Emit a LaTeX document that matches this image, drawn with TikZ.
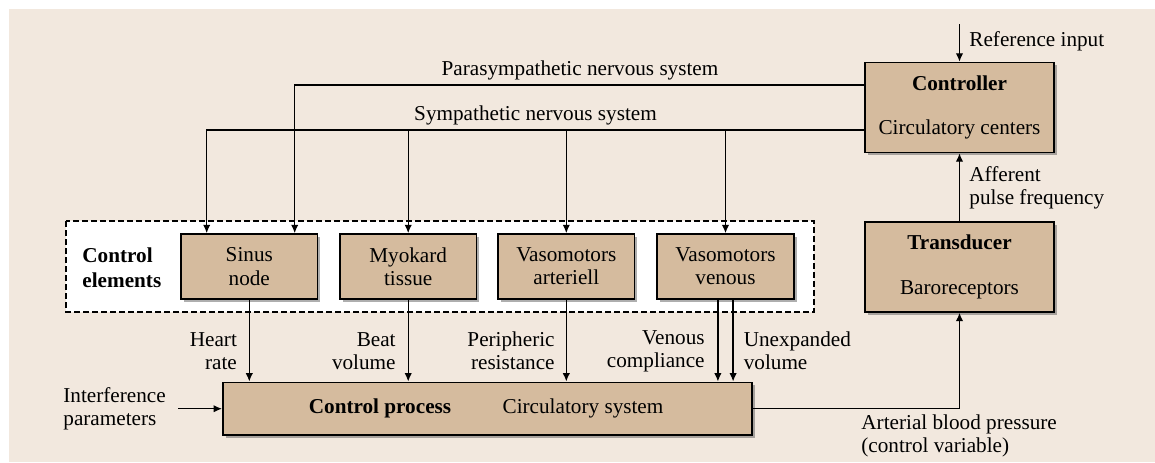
\documentclass[tikz,border=0pt]{standalone}
\usepackage{fontspec}
\setmainfont{Liberation Serif}
\usetikzlibrary{calc,arrows.meta,shadows}
\definecolor{bgc}{RGB}{242,232,222}
\definecolor{boxc}{RGB}{213,187,158}
\tikzset{
  every node/.style={font=\fontsize{10.6}{11.6}\selectfont, inner sep=0pt},
  blk/.style={draw=black, line width=0.8pt, fill=boxc, align=center,
    drop shadow={shadow xshift=1.4pt, shadow yshift=-1.4pt, opacity=0.45, fill=black!70}},
  elem/.style={blk, minimum width=68.3pt, minimum height=32.5pt},
  bigbox/.style={blk, minimum width=94.5pt, minimum height=45pt},
  arr/.style={line width=0.65pt, -{Latex[length=4.2pt,width=3.7pt]}},
}
\begin{document}
\begin{tikzpicture}[x=0.5pt,y=-0.5pt]
\useasboundingbox (0,0) rectangle (1155,462);
\fill[bgc] (9,9) rectangle (1155,462);
% dashed group
\draw[line width=0.6pt, fill=white, dash pattern=on 2.8pt off 1.7pt] (66,221) rectangle (814,312);
\node[align=left, anchor=west, font=\fontsize{10.6}{12.5}\selectfont\bfseries] (cel) at (82,267.5) {Control\\elements};
% boxes
\node[bigbox] (ctrl) at (959.5,107.5) {\textbf{Controller}\\[10.6pt]Circulatory centers};
\node[bigbox] (trans) at (959.5,267) {\textbf{Transducer}\\[10.6pt]Baroreceptors};
\node[elem] (sinus) at (249.3,266.5) {Sinus\\node};
\node[elem] (myo) at (408.2,266.5) {Myokard\\tissue};
\node[elem] (art) at (566.3,266.5) {Vasomotors\\arteriell};
\node[elem] (ven) at (725.5,266.5) {Vasomotors\\venous};
\node[blk, minimum width=264.7pt, minimum height=26.4pt] (proc) at (487.5,408.7) {};
\node[font=\fontsize{10.6}{11.6}\selectfont\bfseries] (proct) at (380,408.7) {Control process};
\node (procs) at (583,408.7) {Circulatory system};
% reference input
\coordinate (refin) at (959.5,24);
\draw[arr] (refin) -- (ctrl.north);
\node[anchor=west] (reft) at (969,41) {Reference input};
% parasympathetic
\coordinate (para) at ($(ctrl.west)+(0,-22.5)$);
\draw[arr] (para) -| ($(sinus.north)+(45.4,0)$);
\node (parat) at (580,70) {Parasympathetic nervous system};
% sympathetic
\coordinate (sym) at ($(ctrl.west)+(0,22.5)$);
\draw[arr] (sym) -| ($(sinus.north)+(-42.6,0)$);
\draw[arr] (sym -| myo.north) -- (myo.north);
\draw[arr] (sym -| art.north) -- (art.north);
\draw[arr] (sym -| ven.north) -- (ven.north);
\node (symt) at (535.5,115) {Sympathetic nervous system};
% outputs of control elements
\draw[arr] (sinus.south) -- (sinus.south |- proc.north);
\draw[arr] (myo.south) -- (myo.south |- proc.north);
\draw[arr] (art.south) -- (art.south |- proc.north);
\draw[arr] ($(ven.south)+(-7.6,0)$) -- ($(ven.south |- proc.north)+(-7.6,0)$);
\draw[arr] ($(ven.south)+(7.6,0)$) -- ($(ven.south |- proc.north)+(7.6,0)$);
\node[align=right, anchor=east] (hr) at (237.3,351) {Heart\\rate};
\node[align=right, anchor=east] (bv) at (396,351) {Beat\\volume};
\node[align=right, anchor=east] (pr) at (555,351) {Peripheric\\resistance};
\node[align=right, anchor=east] (vc) at (705,351) {Venous\\compliance};
\node[align=left, anchor=west] (uv) at (743.4,351) {Unexpanded\\volume};
% interference
\coordinate (intf) at (178,408.7);
\draw[arr] (intf) -- (proc.west);
\node[align=left, anchor=west] (intt) at (63,408.4) {Interference\\parameters};
% feedback
\draw[arr] (proc.east) -| (trans.south);
\node[align=left, anchor=west] (abp) at (861,436) {Arterial blood pressure\\(control variable)};
\draw[arr] (trans.north) -- (ctrl.south);
\node[align=left, anchor=west] (aff) at (969,188) {Afferent\\pulse frequency};
\end{tikzpicture}
\end{document}
